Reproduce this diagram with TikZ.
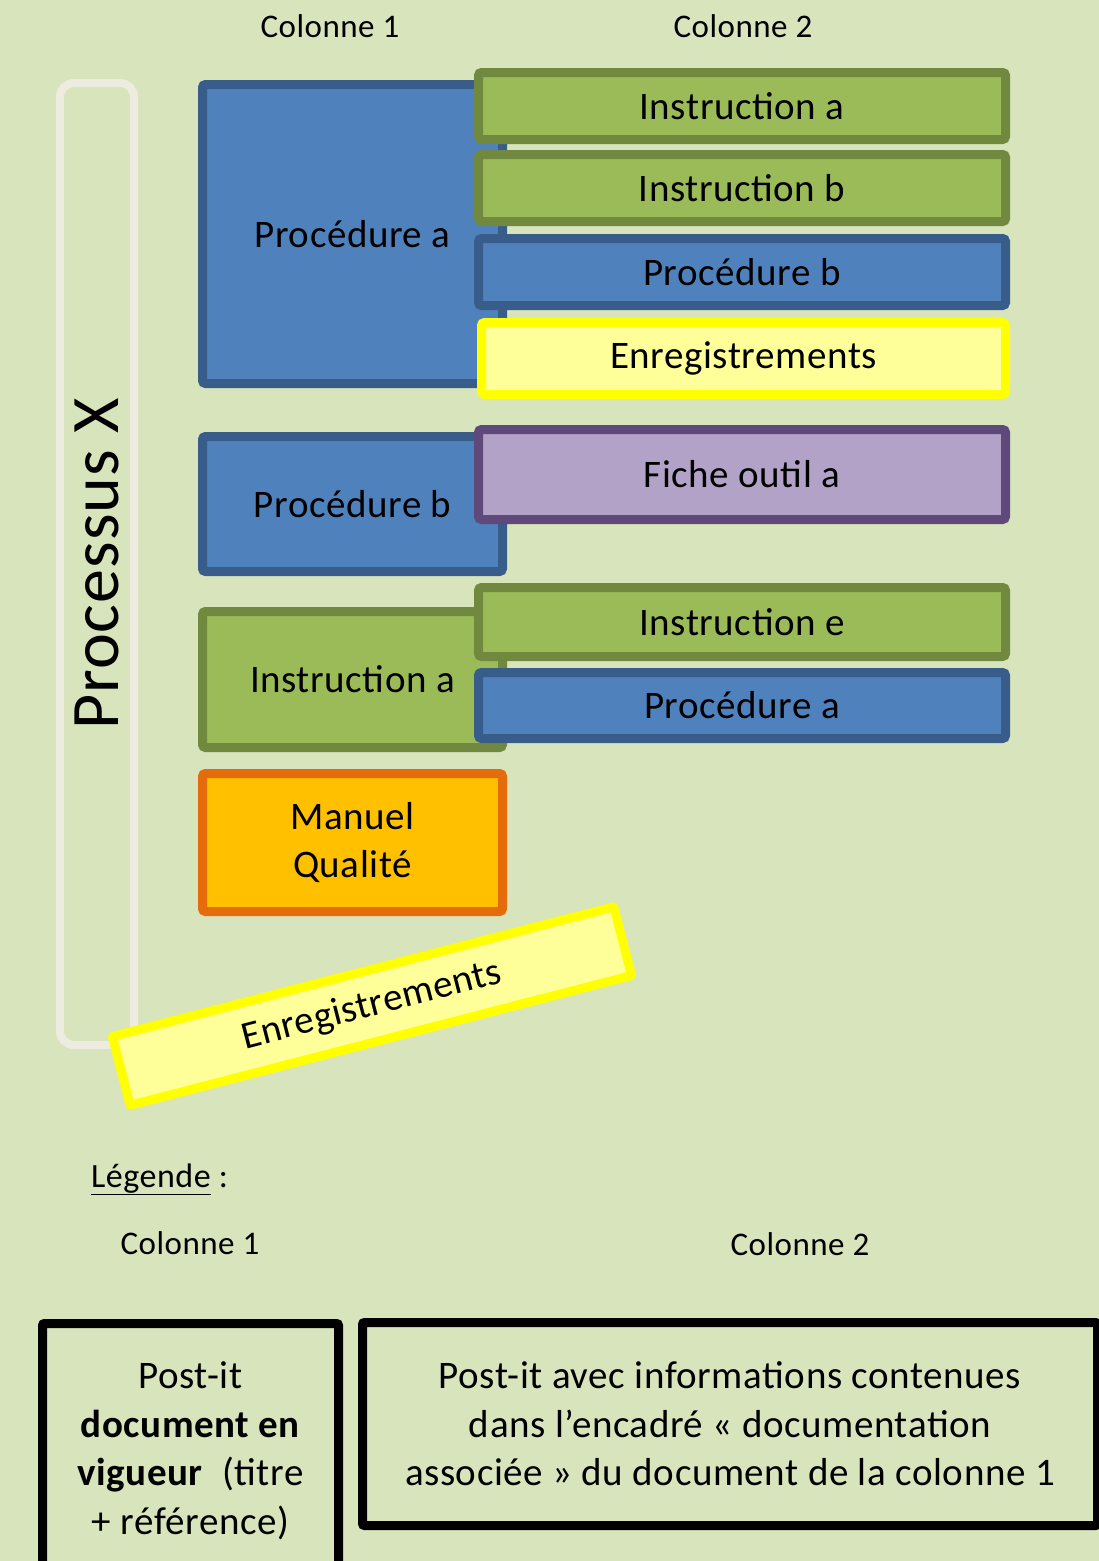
\documentclass[tikz,border=0pt]{standalone}
\usepackage{fontspec}
\setmainfont{Carlito}[LetterSpace=1.5]
\usepackage{xcolor}
\usetikzlibrary{positioning}

\definecolor{fond}{RGB}{216,228,188}
\definecolor{procfill}{RGB}{79,129,189}
\definecolor{procline}{RGB}{56,93,138}
\definecolor{instfill}{RGB}{155,187,89}
\definecolor{instline}{RGB}{113,137,63}
\definecolor{enrfill}{RGB}{255,255,153}
\definecolor{enrline}{RGB}{255,255,0}
\definecolor{fichefill}{RGB}{179,162,199}
\definecolor{ficheline}{RGB}{95,73,122}
\definecolor{mqfill}{RGB}{255,192,0}
\definecolor{mqline}{RGB}{228,108,10}
\definecolor{barline}{RGB}{238,236,225}

\begin{document}
\begin{tikzpicture}[x=1pt, y=-1pt,
  txt/.style={inner sep=0pt, align=center, font=\fontsize{39}{48.5}\selectfont},
  doc/.style={txt, draw, line width=9pt, rounded corners=3pt},
  col1/.style={doc, minimum width=300pt},
  col2/.style={doc, minimum width=527pt, minimum height=67pt},
  proc/.style={fill=procfill, draw=procline},
  inst/.style={fill=instfill, draw=instline},
  enr/.style={fill=enrfill, draw=enrline},
  fiche/.style={fill=fichefill, draw=ficheline},
  mq/.style={fill=mqfill, draw=mqline},
  postit/.style={txt, draw=black, line width=9pt, rounded corners=2pt},
  entete/.style={inner sep=0pt, font=\fontsize{33}{40}\selectfont}]
\clip (0,0) rectangle (1099,1561);
\fill [fond] (0,0) rectangle (1099,1561);

% processus
\node (proc_x) [txt, draw=barline, line width=8pt, rounded corners=14pt,
  minimum width=962pt, minimum height=74pt, rotate=90,
  font=\fontsize{68}{80}\selectfont] at (97,564) {Processus X};

% headers
\node (col1_title) [entete] at (330,26) {Colonne 1};
\node (col2_title) [entete] at (743,26) {Colonne 2};

% colonne 1
\node (pa1) [col1, proc, minimum height=299pt] at (352.5,234) {Procédure a};
\node (pb1) [col1, proc, minimum height=135pt] at (352.5,504) {Procédure b};
\node (ia1) [col1, inst, minimum height=136pt] at (352.5,679.5) {Instruction a};
\node (mq1) [col1, mq, minimum height=138pt] at (352.5,842.5) {Manuel\\Qualité};

% colonne 2, procedure a
\node (ia2) [col2, inst] at (742,106) {Instruction a};
\node (ib2) [col2, inst, below=6pt of ia2] {Instruction b};
\node (pb2) [col2, proc, below=8pt of ib2] {Procédure b};
\node (enr2) [col2, enr, minimum width=524pt, minimum height=72pt, below=8pt of pb2, xshift=1.5pt] {Enregistrements};

% colonne 2, procedure b
\node (fa2) [col2, fiche, minimum height=90pt] at (742,474.5) {Fiche outil a};

% colonne 2, instruction a
\node (ie2) [col2, inst, minimum height=69pt] at (742,622) {Instruction e};
\node (pa2) [col2, proc, minimum height=66pt, below=7pt of ie2] {Procédure a};

% enregistrements
\node (enr_x) [doc, enr, minimum width=518pt, minimum height=71pt, rounded corners=1pt, rotate=14.5] at (372,1006) {Enregistrements};

% legende
\node (legende) [txt, anchor=base west, font=\fontsize{34}{40}\selectfont] at (91,1187) {\underline{Légende} :};
\node (leg_col1) [entete] at (190,1243) {Colonne 1};
\node (leg_col2) [entete] at (800,1244) {Colonne 2};

\node (postit1) [postit, minimum width=296pt, minimum height=255pt] at (190.5,1451)
  {Post-it\\\textbf{document en}\\\textbf{vigueur}~ (titre\\+ référence)};
\node (postit2) [postit, minimum width=735pt, minimum height=203pt] at (730,1424)
  {Post-it avec informations contenues\\dans l’encadré «~documentation\\associée~» du document de la colonne 1};
\end{tikzpicture}
\end{document}
